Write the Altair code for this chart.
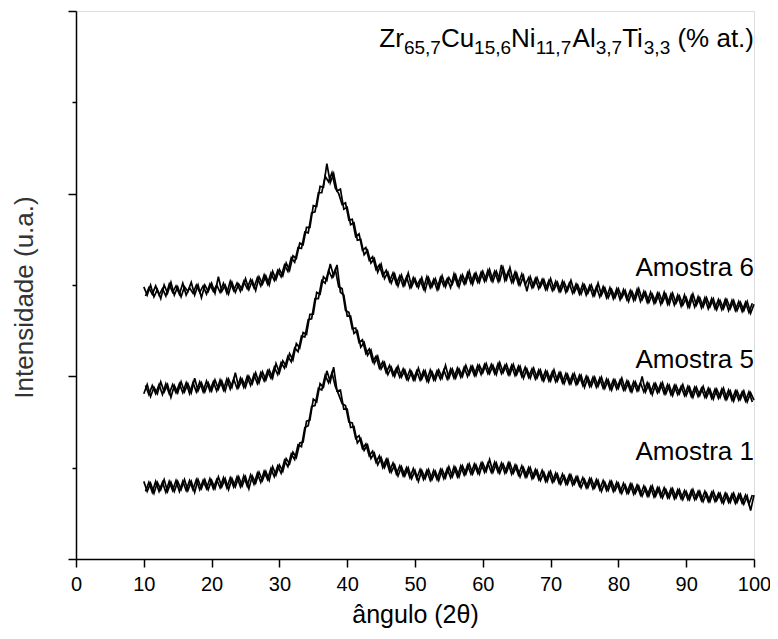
import altair as alt
import pandas as pd

# ---------------- data ----------------
# Each pattern is sampled on two interleaved grids (trace A at 10, 10.5, ... 100;
# trace B at 10.25, 10.75, ... 99.75); both are drawn to render the noisy band.
A_START, B_START, STEP = 10.0, 10.25, 0.5

amostra_6_a = [
    2.98, 2.89, 3.00, 2.87, 2.95, 2.85, 3.00, 2.91, 3.03, 2.89,
    2.98, 2.87, 2.98, 2.93, 3.03, 2.89, 3.00, 2.86, 3.00, 2.93,
    3.02, 2.91, 3.09, 2.93, 3.00, 2.90, 3.03, 2.92, 3.01, 2.95,
    3.07, 2.95, 3.05, 2.94, 3.09, 3.01, 3.10, 3.00, 3.15, 3.06,
    3.17, 3.10, 3.24, 3.16, 3.32, 3.29, 3.46, 3.44, 3.63, 3.63,
    3.87, 3.86, 4.08, 4.07, 4.33, 4.12, 4.22, 4.03, 4.05, 3.83,
    3.85, 3.66, 3.68, 3.49, 3.50, 3.33, 3.38, 3.24, 3.29, 3.14,
    3.23, 3.07, 3.14, 3.02, 3.12, 2.99, 3.11, 3.00, 3.13, 2.98,
    3.07, 2.97, 3.08, 2.94, 3.08, 2.98, 3.07, 2.96, 3.10, 2.98,
    3.08, 3.01, 3.11, 2.98, 3.11, 3.02, 3.15, 3.01, 3.13, 3.03,
    3.15, 3.05, 3.17, 3.04, 3.15, 3.05, 3.19, 3.06, 3.19, 3.03,
    3.13, 3.00, 3.10, 2.93, 3.09, 2.98, 3.08, 2.98, 3.06, 2.95,
    3.07, 2.95, 3.03, 2.93, 3.03, 2.94, 3.05, 2.92, 3.00, 2.90,
    3.00, 2.91, 3.00, 2.89, 3.02, 2.89, 2.97, 2.86, 2.95, 2.86,
    2.96, 2.86, 2.94, 2.82, 2.93, 2.84, 2.96, 2.84, 2.92, 2.81,
    2.90, 2.81, 2.91, 2.81, 2.90, 2.79, 2.91, 2.80, 2.88, 2.78,
    2.86, 2.76, 2.90, 2.78, 2.86, 2.76, 2.86, 2.76, 2.85, 2.73,
    2.83, 2.74, 2.84, 2.74, 2.83, 2.72, 2.81, 2.72, 2.82, 2.69,
    2.79,
]
amostra_6_b = [
    2.88, 2.97, 2.90, 2.99, 2.89, 2.96, 2.88, 3.01, 2.92, 2.99,
    2.90, 3.02, 2.89, 2.97, 2.91, 3.00, 2.92, 2.99, 2.90, 3.01,
    2.93, 3.00, 2.92, 3.02, 2.91, 3.04, 2.94, 3.02, 2.93, 3.04,
    2.96, 3.06, 2.97, 3.08, 2.99, 3.11, 3.01, 3.13, 3.05, 3.16,
    3.09, 3.22, 3.15, 3.30, 3.25, 3.41, 3.40, 3.58, 3.57, 3.79,
    3.80, 4.01, 4.01, 4.19, 4.13, 4.23, 4.06, 4.00, 3.88, 3.90,
    3.71, 3.72, 3.53, 3.56, 3.38, 3.41, 3.27, 3.31, 3.17, 3.22,
    3.10, 3.16, 3.04, 3.13, 3.01, 3.10, 2.99, 3.09, 2.97, 3.08,
    2.99, 3.06, 2.96, 3.09, 2.97, 3.06, 2.95, 3.08, 2.99, 3.07,
    2.97, 3.12, 3.00, 3.10, 3.01, 3.13, 3.02, 3.12, 3.03, 3.14,
    3.04, 3.16, 3.05, 3.15, 3.04, 3.22, 3.05, 3.15, 3.03, 3.14,
    3.01, 3.12, 3.00, 3.08, 2.97, 3.07, 2.96, 3.06, 2.95, 3.05,
    2.94, 3.04, 2.93, 3.04, 2.92, 3.02, 2.91, 3.01, 2.90, 3.01,
    2.89, 2.99, 2.88, 2.98, 2.87, 2.98, 2.86, 2.97, 2.85, 2.96,
    2.84, 2.95, 2.84, 2.94, 2.83, 2.95, 2.82, 2.93, 2.81, 2.92,
    2.80, 2.91, 2.79, 2.92, 2.79, 2.90, 2.78, 2.89, 2.77, 2.89,
    2.76, 2.88, 2.76, 2.87, 2.75, 2.86, 2.74, 2.85, 2.74, 2.84,
    2.73, 2.84, 2.72, 2.83, 2.72, 2.82, 2.71, 2.81, 2.70, 2.80,
]

amostra_5_a = [
    1.81, 1.91, 1.78, 1.88, 1.81, 1.94, 1.83, 1.91, 1.77, 1.90,
    1.82, 1.94, 1.83, 1.92, 1.82, 1.98, 1.84, 1.93, 1.83, 1.93,
    1.84, 1.96, 1.86, 1.95, 1.84, 1.97, 1.88, 2.04, 1.88, 1.97,
    1.88, 2.00, 1.92, 2.04, 1.93, 2.05, 1.96, 2.07, 1.98, 2.14,
    2.04, 2.17, 2.11, 2.25, 2.18, 2.36, 2.31, 2.48, 2.46, 2.68,
    2.68, 2.92, 2.90, 3.09, 3.05, 3.23, 3.10, 3.22, 2.92, 2.89,
    2.66, 2.66, 2.47, 2.50, 2.32, 2.37, 2.23, 2.29, 2.14, 2.22,
    2.08, 2.15, 2.02, 2.10, 2.00, 2.11, 1.99, 2.07, 1.96, 2.05,
    1.96, 2.09, 1.97, 2.06, 1.94, 2.05, 1.96, 2.07, 1.98, 2.12,
    1.98, 2.08, 1.98, 2.08, 2.00, 2.12, 2.02, 2.11, 2.01, 2.12,
    2.04, 2.14, 2.03, 2.12, 2.02, 2.15, 2.04, 2.13, 2.02, 2.13,
    2.02, 2.11, 1.98, 2.08, 1.98, 2.09, 1.98, 2.07, 1.95, 2.05,
    1.95, 2.07, 1.95, 2.04, 1.92, 2.02, 1.92, 2.03, 1.92, 2.01,
    1.88, 1.99, 1.89, 1.99, 1.89, 1.99, 1.87, 1.96, 1.85, 1.96,
    1.87, 1.98, 1.85, 1.94, 1.83, 1.94, 1.85, 2.00, 1.83, 1.92,
    1.80, 1.92, 1.83, 1.93, 1.81, 1.90, 1.79, 1.90, 1.81, 1.91,
    1.79, 1.88, 1.77, 1.88, 1.79, 1.89, 1.77, 1.86, 1.75, 1.86,
    1.77, 1.87, 1.75, 1.84, 1.73, 1.84, 1.75, 1.84, 1.72, 1.82,
    1.74,
]
amostra_5_b = [
    1.90, 1.80, 1.90, 1.81, 1.91, 1.80, 1.92, 1.81, 1.91, 1.82,
    1.92, 1.82, 1.93, 1.81, 1.93, 1.83, 1.94, 1.83, 1.95, 1.84,
    1.94, 1.84, 1.96, 1.85, 1.97, 1.86, 1.97, 1.87, 1.98, 1.88,
    2.00, 1.90, 2.02, 1.92, 2.04, 1.95, 2.06, 1.98, 2.10, 2.02,
    2.15, 2.09, 2.22, 2.16, 2.31, 2.27, 2.44, 2.43, 2.62, 2.63,
    2.85, 2.85, 3.05, 3.02, 3.16, 3.08, 3.17, 2.98, 2.96, 2.72,
    2.70, 2.52, 2.53, 2.37, 2.40, 2.25, 2.30, 2.16, 2.22, 2.09,
    2.16, 2.04, 2.12, 2.01, 2.09, 1.99, 2.08, 1.97, 2.07, 1.96,
    2.06, 1.96, 2.06, 1.95, 2.07, 1.96, 2.06, 1.97, 2.07, 1.97,
    2.08, 1.98, 2.09, 1.99, 2.10, 2.00, 2.11, 2.01, 2.12, 2.02,
    2.13, 2.03, 2.13, 2.03, 2.14, 2.03, 2.12, 2.02, 2.12, 2.01,
    2.11, 2.00, 2.10, 1.99, 2.08, 1.97, 2.07, 1.96, 2.06, 1.95,
    2.05, 1.94, 2.04, 1.93, 2.03, 1.92, 2.02, 1.91, 2.01, 1.90,
    2.00, 1.89, 1.99, 1.88, 1.98, 1.87, 1.97, 1.86, 1.96, 1.86,
    1.96, 1.85, 1.95, 1.84, 1.94, 1.84, 1.93, 1.83, 1.93, 1.82,
    1.92, 1.82, 1.92, 1.81, 1.91, 1.80, 1.90, 1.80, 1.89, 1.79,
    1.89, 1.78, 1.88, 1.78, 1.87, 1.77, 1.87, 1.76, 1.86, 1.76,
    1.86, 1.75, 1.85, 1.74, 1.84, 1.74, 1.83, 1.73, 1.83, 1.72,
]

amostra_1_a = [
    0.85, 0.74, 0.83, 0.72, 0.84, 0.76, 0.87, 0.74, 0.84, 0.74,
    0.85, 0.76, 0.87, 0.75, 0.85, 0.73, 0.87, 0.77, 0.87, 0.76,
    0.86, 0.77, 0.90, 0.79, 0.88, 0.76, 0.88, 0.79, 0.90, 0.80,
    0.90, 0.77, 0.91, 0.83, 0.95, 0.86, 0.96, 0.86, 1.01, 0.92,
    1.03, 0.96, 1.10, 1.04, 1.17, 1.11, 1.27, 1.28, 1.51, 1.52,
    1.75, 1.72, 1.92, 1.88, 2.06, 1.94, 2.10, 1.84, 1.85, 1.64,
    1.64, 1.44, 1.45, 1.27, 1.32, 1.19, 1.25, 1.10, 1.16, 1.03,
    1.11, 1.00, 1.09, 0.95, 1.03, 0.91, 1.01, 0.91, 1.00, 0.88,
    0.97, 0.85, 0.97, 0.88, 0.98, 0.87, 0.96, 0.86, 0.98, 0.89,
    1.01, 0.90, 1.00, 0.90, 1.02, 0.93, 1.04, 0.93, 1.03, 0.93,
    1.05, 0.96, 1.09, 0.95, 1.05, 0.94, 1.04, 0.95, 1.05, 0.94,
    1.02, 0.90, 1.00, 0.90, 1.00, 0.89, 0.97, 0.86, 0.95, 0.85,
    0.96, 0.85, 0.93, 0.82, 0.91, 0.82, 0.92, 0.82, 0.90, 0.78,
    0.87, 0.78, 0.88, 0.78, 0.86, 0.74, 0.84, 0.75, 0.85, 0.75,
    0.83, 0.72, 0.81, 0.72, 0.82, 0.72, 0.80, 0.69, 0.78, 0.69,
    0.80, 0.69, 0.78, 0.67, 0.76, 0.67, 0.77, 0.67, 0.76, 0.65,
    0.74, 0.65, 0.76, 0.66, 0.74, 0.63, 0.72, 0.63, 0.74, 0.64,
    0.72, 0.61, 0.71, 0.62, 0.72, 0.62, 0.71, 0.60, 0.69, 0.53,
    0.70,
]
amostra_1_b = [
    0.74, 0.84, 0.73, 0.85, 0.74, 0.84, 0.73, 0.85, 0.75, 0.86,
    0.74, 0.85, 0.75, 0.86, 0.76, 0.87, 0.76, 0.86, 0.77, 0.88,
    0.77, 0.87, 0.78, 0.89, 0.78, 0.89, 0.79, 0.90, 0.79, 0.91,
    0.80, 0.92, 0.82, 0.94, 0.84, 0.96, 0.87, 0.99, 0.90, 1.02,
    0.94, 1.08, 1.01, 1.15, 1.09, 1.25, 1.23, 1.44, 1.46, 1.67,
    1.68, 1.87, 1.85, 2.01, 1.93, 2.04, 1.89, 1.80, 1.70, 1.68,
    1.50, 1.49, 1.32, 1.35, 1.21, 1.26, 1.13, 1.18, 1.06, 1.13,
    1.00, 1.09, 0.96, 1.05, 0.93, 1.02, 0.91, 1.00, 0.89, 0.99,
    0.88, 0.98, 0.87, 0.97, 0.86, 0.97, 0.87, 0.98, 0.88, 0.99,
    0.89, 1.01, 0.90, 1.02, 0.92, 1.03, 0.93, 1.04, 0.94, 1.05,
    0.95, 1.05, 0.95, 1.06, 0.95, 1.05, 0.94, 1.05, 0.93, 1.03,
    0.92, 1.02, 0.90, 1.00, 0.88, 0.98, 0.87, 0.97, 0.85, 0.95,
    0.84, 0.94, 0.83, 0.93, 0.82, 0.92, 0.81, 0.90, 0.80, 0.89,
    0.78, 0.88, 0.77, 0.87, 0.76, 0.86, 0.75, 0.85, 0.74, 0.84,
    0.73, 0.83, 0.72, 0.82, 0.71, 0.81, 0.70, 0.80, 0.69, 0.79,
    0.68, 0.78, 0.68, 0.78, 0.67, 0.77, 0.66, 0.76, 0.66, 0.75,
    0.65, 0.75, 0.65, 0.74, 0.64, 0.74, 0.63, 0.73, 0.63, 0.72,
    0.62, 0.72, 0.62, 0.71, 0.61, 0.71, 0.61, 0.70, 0.60, 0.70,
]

sample_names = ["Amostra 6", "Amostra 5", "Amostra 1"]
sample_label_y = [3.19, 2.18, 1.17]
sample_label_x = [100, 100, 100]

x_tick_values = [0, 5, 10, 15, 20, 25, 30, 35, 40, 45, 50,
                 55, 60, 65, 70, 75, 80, 85, 90, 95, 100]
y_tick_values = [0, 1, 2, 3, 4, 5, 6]

formula_parts = ["Zr", "65,7", "Cu", "15,6", "Ni", "11,7", "Al", "3,7", "Ti", "3,3", " ", "(% at.)"]
formula_is_sub = [False, True, False, True, False, True, False, True, False, True, False, False]
formula_anchor_x = 100
formula_anchor_y = 5.61

# ---------------- build tables ----------------
rows = []
series = [
    ("Amostra 6", "a", A_START, amostra_6_a), ("Amostra 6", "b", B_START, amostra_6_b),
    ("Amostra 5", "a", A_START, amostra_5_a), ("Amostra 5", "b", B_START, amostra_5_b),
    ("Amostra 1", "a", A_START, amostra_1_a), ("Amostra 1", "b", B_START, amostra_1_b),
]
for name, trace, start, vals in series:
    for i, v in enumerate(vals):
        rows.append({"angle": start + STEP * i, "intensity": v, "sample": name,
                     "trace": name + "-" + trace})
df = pd.DataFrame(rows)

labels_df = pd.DataFrame({"x": sample_label_x, "y": sample_label_y, "text": sample_names})

FONT = "Liberation Sans"
MAIN_SIZE = 26
SUB_SIZE = 19

# Arial / Liberation Sans advance widths (em)
W = {'Z': .611, 'r': .333, 'C': .722, 'u': .556, 'N': .722, 'i': .222, 'A': .667,
     'l': .222, 'T': .611, ',': .278, ' ': .278, '(': .333, '%': .889, 'a': .556,
     't': .278, '.': .278, ')': .333}
for d in "0123456789":
    W[d] = .556


def text_width(s, size):
    return sum(W.get(c, .556) for c in s) * size


x_scale = alt.Scale(domain=[0, 100], nice=False, zero=False)
y_scale = alt.Scale(domain=[0, 6], nice=False, zero=False)

x_axis = alt.Axis(
    values=x_tick_values,
    labelExpr="datum.value % 10 == 0 ? datum.label : ''",
    tickSize={"condition": {"test": "datum.value % 10 == 0", "value": 8}, "value": 4},
    grid=False, domainColor="black", domainWidth=1.5, tickColor="black", tickWidth=1.5,
    labelFontSize=20, labelFont=FONT, labelColor="black", labelPadding=7,
    labelOverlap=False, labelFlush=False,
    title="ângulo (2θ)", titleFontSize=25, titleFont=FONT, titleFontWeight="normal",
    titleColor="black", titlePadding=8,
)
y_axis = alt.Axis(
    values=y_tick_values, labels=False,
    tickSize={"condition": {"test": "datum.value % 2 == 0", "value": 8}, "value": 4},
    grid=False, domainColor="black", domainWidth=1.5, tickColor="black", tickWidth=1.5,
    title="Intensidade (u.a.)", titleFontSize=26, titleFont=FONT, titleFontWeight="normal",
    titleColor="#333", titlePadding=30, titleY=286,
)

lines = alt.Chart(df).mark_line(color="black", strokeWidth=1.7).encode(
    x=alt.X("angle:Q", scale=x_scale, axis=x_axis),
    y=alt.Y("intensity:Q", scale=y_scale, axis=y_axis),
    detail="trace:N",
)

labels = alt.Chart(labels_df).mark_text(
    align="right", baseline="middle", fontSize=MAIN_SIZE, font=FONT, color="black"
).encode(
    x=alt.X("x:Q", scale=x_scale),
    y=alt.Y("y:Q", scale=y_scale),
    text="text:N",
)

total_w = sum(text_width(p, SUB_SIZE if s else MAIN_SIZE) for p, s in zip(formula_parts, formula_is_sub))
formula_layers = []
offset = -total_w
for part, is_sub in zip(formula_parts, formula_is_sub):
    size = SUB_SIZE if is_sub else MAIN_SIZE
    if part.strip():
        formula_layers.append(
            alt.Chart(pd.DataFrame({"x": [formula_anchor_x], "y": [formula_anchor_y], "t": [part]}))
            .mark_text(align="left", baseline="alphabetic", fontSize=size, font=FONT,
                       color="black", dx=offset, dy=7 if is_sub else 0)
            .encode(x=alt.X("x:Q", scale=x_scale), y=alt.Y("y:Q", scale=y_scale), text="t:N")
        )
    offset += text_width(part, size)

chart = alt.layer(lines, labels, *formula_layers).properties(
    width=678, height=548,
    autosize=alt.AutoSizeParams(type="none"),
    padding={"left": 68, "top": 3, "right": 16, "bottom": 72},
).configure_view(stroke=None).configure(background="white")

chart.save("out.html", embed_options={"renderer": "svg", "actions": False})
